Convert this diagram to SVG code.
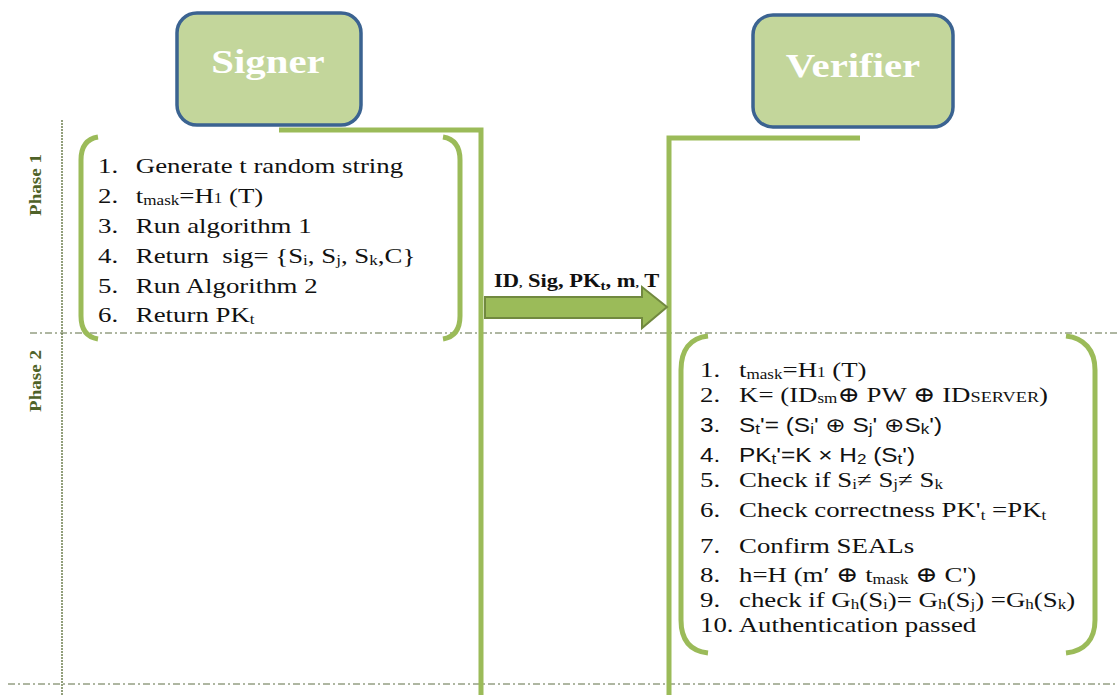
<svg xmlns="http://www.w3.org/2000/svg" width="1117" height="695" viewBox="0 0 1117 695">
<defs>
<style>
.hdr{fill:#c3d69b;stroke:#3b6391;stroke-width:3.5}
.hdrt{font-family:"Liberation Serif",serif;font-weight:bold;font-size:34px;fill:#ffffff;text-anchor:middle}
.life{fill:none;stroke:#9bbb59;stroke-width:5}
.brk{fill:none;stroke:#9bbb59;stroke-width:5}
.sep{stroke:#5f6f45;stroke-width:1;stroke-dasharray:7 3 2 3}
.vsep{stroke:#6f8050;stroke-width:1.5;stroke-dasharray:2 1}
.ph{font-family:"Liberation Serif",serif;font-weight:bold;font-size:16px;fill:#4f6228}
.t{font-family:"Liberation Serif","DejaVu Serif",serif;font-size:22px;fill:#111111}
.s{font-family:"Liberation Sans","DejaVu Sans",sans-serif;font-size:20px;fill:#111111}
.sub{font-size:14px}
.lbl{font-family:"Liberation Serif",serif;font-weight:bold;font-size:18px;fill:#111111}
</style>
</defs>
<rect width="1117" height="695" fill="#ffffff"/>

<g id="separators">
<line class="vsep" x1="62" y1="120" x2="62" y2="695"/>
<line class="sep" x1="30" y1="333" x2="1117" y2="333"/>
<line class="sep" x1="8" y1="684" x2="1117" y2="684"/>
<text class="ph" transform="translate(41 216) rotate(-90)" textLength="62" lengthAdjust="spacingAndGlyphs">Phase 1</text>
<text class="ph" transform="translate(41 412) rotate(-90)" textLength="62" lengthAdjust="spacingAndGlyphs">Phase 2</text>
</g>

<g id="connectors">
<polyline class="life" points="279,130 481,130 481,695"/>
<polyline class="life" points="860,138 669,138 669,695"/>
<polygon points="485,297 642,297 642,287 667,307 642,328 642,318 485,318" fill="#9bbb59" stroke="#71893f" stroke-width="2"/>
<text class="lbl" transform="translate(494 287) scale(1.25 1)">ID<tspan font-size="11">,</tspan> Sig, PK<tspan font-size="12" dy="3">t</tspan><tspan dy="-3">, m</tspan><tspan font-size="11">,</tspan> T</text>
</g>

<g id="signer">
<rect class="hdr" x="177" y="13" width="184" height="112" rx="20"/>
<text class="hdrt" transform="translate(268 73) scale(1.2 1)">Signer</text>
</g>

<g id="verifier">
<rect class="hdr" x="753" y="15" width="200" height="112" rx="20"/>
<text class="hdrt" transform="translate(853 77) scale(1.2 1)">Verifier</text>
</g>

<g id="phase1">
<path class="brk" d="M98 137 C86 139 81 147 81 160 L81 316 C81 329 86 337 98 339"/>
<path class="brk" d="M443 137 C455 139 460 147 460 160 L460 316 C460 329 455 337 443 339"/>
<g transform="translate(98 0) scale(1.22 1)">
<text class="t" x="0" y="173">1.</text><text class="t" x="31" y="173">Generate t random string</text>
<text class="t" x="0" y="203">2.</text><text class="t" x="31" y="203">t<tspan class="sub" dy="2">mask</tspan><tspan dy="-2">=H</tspan><tspan class="sub">1</tspan> (T)</text>
<text class="t" x="0" y="233">3.</text><text class="t" x="31" y="233">Run algorithm 1</text>
<text class="t" x="0" y="263">4.</text><text class="t" x="31" y="263" xml:space="preserve">Return  sig= {S<tspan class="sub" dy="2">i</tspan><tspan dy="-2">, S</tspan><tspan class="sub" dy="2">j</tspan><tspan dy="-2">, S</tspan><tspan class="sub" dy="2">k</tspan><tspan dy="-2">,C}</tspan></text>
<text class="t" x="0" y="293">5.</text><text class="t" x="31" y="293">Run Algorithm 2</text>
<text class="t" x="0" y="322">6.</text><text class="t" x="31" y="322">Return PK<tspan class="sub" dy="2">t</tspan></text>
</g>
</g>

<g id="phase2">
<path class="brk" d="M708 336 C690 338 681 350 681 370 L681 620 C681 640 690 651 708 653"/>
<path class="brk" d="M1066 336 C1084 338 1095 350 1095 370 L1095 620 C1095 640 1084 651 1066 653"/>
<g transform="translate(700 0) scale(1.22 1)">
<text class="t" x="0" y="377">1.</text><text class="t" x="32" y="377">t<tspan class="sub" dy="2">mask</tspan><tspan dy="-2">=H</tspan><tspan class="sub">1</tspan> (T)</text>
<text class="t" x="0" y="402">2.</text><text class="t" x="32" y="402">K= (ID<tspan class="sub" dy="1">sm</tspan><tspan dy="-1">⊕ PW ⊕ ID</tspan><tspan font-size="15">SERVER</tspan>)</text>
<text class="s" x="0" y="432">3.</text><text class="s" x="32" y="432">S<tspan class="sub" dy="2">t</tspan><tspan dy="-2">'= (S</tspan><tspan class="sub" dy="2">i</tspan><tspan dy="-2">' ⊕ S</tspan><tspan class="sub" dy="2">j</tspan><tspan dy="-2">' ⊕S</tspan><tspan class="sub" dy="2">k</tspan><tspan dy="-2">')</tspan></text>
<text class="s" x="0" y="462">4.</text><text class="s" x="32" y="462">PK<tspan class="sub" dy="2">t</tspan><tspan dy="-2">'=K × H</tspan><tspan class="sub" dy="2">2</tspan><tspan dy="-2"> (S</tspan><tspan class="sub" dy="2">t</tspan><tspan dy="-2">')</tspan></text>
<text class="t" x="0" y="487">5.</text><text class="t" x="32" y="487">Check if S<tspan class="sub" dy="2">i</tspan><tspan dy="-2">≠ S</tspan><tspan class="sub" dy="2">j</tspan><tspan dy="-2">≠ S</tspan><tspan class="sub" dy="2">k</tspan></text>
<text class="t" x="0" y="517">6.</text><text class="t" x="32" y="517">Check correctness PK'<tspan class="sub" dy="3">t</tspan><tspan dy="-3"> =PK</tspan><tspan class="sub" dy="3">t</tspan></text>
<text class="t" x="0" y="553">7.</text><text class="t" x="32" y="553">Confirm SEALs</text>
<text class="t" x="0" y="582">8.</text><text class="t" x="32" y="582">h=H (m′ ⊕ t<tspan class="sub" dy="2">mask</tspan><tspan dy="-2">  ⊕ C')</tspan></text>
<text class="t" x="0" y="607">9.</text><text class="t" x="32" y="607">check if G<tspan class="sub" dy="2">h</tspan><tspan dy="-2">(S</tspan><tspan class="sub" dy="2">i</tspan><tspan dy="-2">)= G</tspan><tspan class="sub" dy="2">h</tspan><tspan dy="-2">(S</tspan><tspan class="sub" dy="2">j</tspan><tspan dy="-2">) =G</tspan><tspan class="sub" dy="2">h</tspan><tspan dy="-2">(S</tspan><tspan class="sub" dy="2">k</tspan><tspan dy="-2">)</tspan></text>
<text class="t" x="0" y="632">10. Authentication passed</text>
</g>
</g>
</svg>
